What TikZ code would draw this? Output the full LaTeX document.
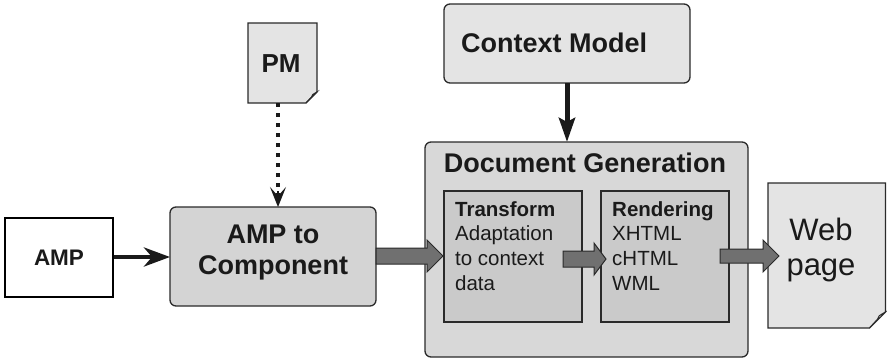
\documentclass[tikz,border=0pt]{standalone}
\usepackage{fontspec}
\setmainfont{Liberation Sans}
\usetikzlibrary{arrows.meta,calc}
\definecolor{txt}{HTML}{1A1A1A}
\definecolor{edge}{HTML}{2A2A2A}
\definecolor{boxA}{HTML}{D4D4D4}
\definecolor{boxB}{HTML}{D8D8D8}
\definecolor{boxC}{HTML}{CACACA}
\definecolor{light}{HTML}{E4E4E4}
\definecolor{fatfill}{HTML}{707070}
\tikzset{
  plain/.style={draw=edge,line width=1.3pt},
  rbox/.style={plain,rounded corners=6pt},
  fat/.style={draw=edge,line width=1pt,fill=fatfill},
  lbl/.style={text=txt,inner sep=0pt},
}
\newcommand{\docshape}[5]{% x1 y1 x2 y2 fold
  \draw[plain,fill=light] (#1,#2) -- (#3,#2) -- (#3,#4-#5) -- (#3-#5,#4) -- (#1,#4) -- cycle;
  \draw[plain,fill=white,line width=1pt] (#3,#4-#5) .. controls (#3-0.45*#5,#4-0.75*#5) .. (#3-0.5*#5,#4-0.55*#5) -- (#3-#5,#4) -- cycle;
}
\newcommand{\fatarr}[5]{% start, tip, shaft half, head half, head length
  \draw[fat] ($(#1)+(0,-#3)$) -- ($(#2)+(-#5,-#3)$) -- ($(#2)+(-#5,-#4)$) -- (#2)
    -- ($(#2)+(-#5,#4)$) -- ($(#2)+(-#5,#3)$) -- ($(#1)+(0,#3)$) -- cycle;
}
\begin{document}
\begin{tikzpicture}[x=1pt,y=-1pt]
\useasboundingbox (0,0) rectangle (887,360);

% Context Model
\draw[rbox,fill=light] (444,4) rectangle (690,83);
\node[lbl,anchor=base west,font=\bfseries\fontsize{27}{30}\selectfont] (ctx) at (461,52) {Context Model};
\coordinate (ctxb) at (567,83);

% PM document
\docshape{248}{23}{317}{103}{11}
\node[lbl,font=\bfseries\fontsize{26}{30}\selectfont] (pm) at (281,64) {PM};
\coordinate (pmb) at (278,103);

% AMP
\draw[draw=black,line width=2.5pt,fill=white] (5,218) rectangle (113,297);
\node[lbl,font=\bfseries\fontsize{22.5}{26}\selectfont] (amp) at (59,258) {AMP};
\coordinate (ampr) at (114,257);

% AMP to Component
\draw[rbox,fill=boxA] (170,207) rectangle (376,306);
\node[lbl,align=center,font=\bfseries\fontsize{27}{31}\selectfont] (a2c) at (273,253) {AMP to\\Component};
\coordinate (a2cl) at (170,257);
\coordinate (a2ct) at (278,207);

% Document Generation
\draw[rbox,fill=boxB] (425,142) rectangle (748,357);
\node[lbl,anchor=base,font=\bfseries\fontsize{27}{30}\selectfont] (dg) at (585,172) {Document Generation};
\coordinate (dgt) at (567,142);

% Transform
\draw[plain,line width=1.1pt,fill=boxC] (444,191) rectangle (582,322);
\node[lbl,anchor=north west,align=left,font=\fontsize{20.5}{24.7}\selectfont] (tr) at (455,201)
  {\textbf{Transform}\\Adaptation\\to context\\data};

% Rendering
\draw[plain,line width=1.1pt,fill=boxC] (601,191) rectangle (729,322);
\node[lbl,anchor=north west,align=left,font=\fontsize{20.5}{24.7}\selectfont] (rd) at (612,201)
  {\textbf{Rendering}\\XHTML\\cHTML\\WML};

% Web page
\docshape{768}{183}{885.5}{328}{16}
\node[lbl,align=center,font=\fontsize{31}{35}\selectfont] (web) at (821,250) {Web\\page};

% connectors
\draw[line width=5pt,draw=txt,-{Stealth[length=24pt,width=16pt,inset=4pt]}] (ctxb) -- (dgt);
\draw[line width=4pt,draw=txt,dash pattern=on 4pt off 6pt,shorten >=8pt] (pmb) -- (a2ct);
\draw[draw=txt,line width=1.5pt,-{Stealth[length=20pt,width=16pt,inset=9pt]}] ($(a2ct)+(0,-16)$) -- (a2ct);
\draw[line width=4.5pt,draw=txt,-{Stealth[length=26pt,width=19pt,inset=8pt]}] (ampr) -- (a2cl);

\coordinate (f1s) at (376,256); \coordinate (f1t) at (443,256);
\fatarr{f1s}{f1t}{8}{16}{16}
\coordinate (f2s) at (563,259); \coordinate (f2t) at (606,259);
\fatarr{f2s}{f2t}{8}{16}{12}
\coordinate (f3s) at (720,256); \coordinate (f3t) at (779,256);
\fatarr{f3s}{f3t}{7}{16}{16}
\end{tikzpicture}
\end{document}
